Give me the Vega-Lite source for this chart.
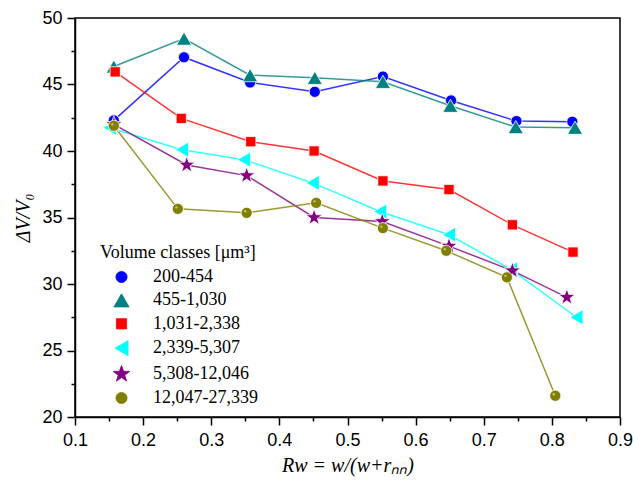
{
  "$schema": "https://vega.github.io/schema/vega-lite/v6.json",
  "autosize": "none",
  "width": 545,
  "height": 399,
  "padding": {"left": 75, "top": 18, "right": 13, "bottom": 65},
  "background": "white",
  "config": {
    "font": "Liberation Serif",
    "view": {"stroke": "black", "strokeWidth": 1.5},
    "axis": {"grid": false, "domainColor": "black", "domainWidth": 1.5, "tickColor": "black", "tickWidth": 1.5,
      "labelFont": "Liberation Sans", "labelFontSize": 18, "labelColor": "black",
      "titleFont": "Liberation Serif", "titleFontSize": 20, "titleFontStyle": "italic", "titleFontWeight": "normal", "titleColor": "black"},
    "legend": {"orient": "none", "legendX": 25, "legendY": 226,
      "titleFont": "Liberation Serif", "titleFontSize": 18, "titleFontWeight": "normal", "titleColor": "black",
      "labelFont": "Liberation Serif", "labelFontSize": 18, "labelColor": "black", "symbolOpacity": 1,
      "symbolStrokeWidth": 0.8, "rowPadding": 5.4, "labelOffset": 22, "titlePadding": 6, "symbolOffset": 12}
  },
  "data": {"values": [
    {"s": "200-454", "x": 0.157, "y": 42.3}, {"s": "200-454", "x": 0.26, "y": 47.05}, {"s": "200-454", "x": 0.357, "y": 45.15}, {"s": "200-454", "x": 0.452, "y": 44.45}, {"s": "200-454", "x": 0.552, "y": 45.6}, {"s": "200-454", "x": 0.652, "y": 43.8}, {"s": "200-454", "x": 0.748, "y": 42.25}, {"s": "200-454", "x": 0.83, "y": 42.2},
    {"s": "455-1,030", "x": 0.157, "y": 46.35}, {"s": "455-1,030", "x": 0.26, "y": 48.45}, {"s": "455-1,030", "x": 0.357, "y": 45.7}, {"s": "455-1,030", "x": 0.452, "y": 45.5}, {"s": "455-1,030", "x": 0.552, "y": 45.2}, {"s": "455-1,030", "x": 0.651, "y": 43.4}, {"s": "455-1,030", "x": 0.747, "y": 41.8}, {"s": "455-1,030", "x": 0.834, "y": 41.75},
    {"s": "1,031-2,338", "x": 0.159, "y": 45.95}, {"s": "1,031-2,338", "x": 0.256, "y": 42.45}, {"s": "1,031-2,338", "x": 0.358, "y": 40.7}, {"s": "1,031-2,338", "x": 0.451, "y": 40.0}, {"s": "1,031-2,338", "x": 0.552, "y": 37.75}, {"s": "1,031-2,338", "x": 0.649, "y": 37.1}, {"s": "1,031-2,338", "x": 0.742, "y": 34.45}, {"s": "1,031-2,338", "x": 0.831, "y": 32.4},
    {"s": "2,339-5,307", "x": 0.151, "y": 41.75}, {"s": "2,339-5,307", "x": 0.257, "y": 40.1}, {"s": "2,339-5,307", "x": 0.348, "y": 39.35}, {"s": "2,339-5,307", "x": 0.449, "y": 37.6}, {"s": "2,339-5,307", "x": 0.548, "y": 35.45}, {"s": "2,339-5,307", "x": 0.649, "y": 33.7}, {"s": "2,339-5,307", "x": 0.74, "y": 31.1}, {"s": "2,339-5,307", "x": 0.836, "y": 27.5},
    {"s": "5,308-12,046", "x": 0.157, "y": 42.0}, {"s": "5,308-12,046", "x": 0.264, "y": 38.95}, {"s": "5,308-12,046", "x": 0.352, "y": 38.15}, {"s": "5,308-12,046", "x": 0.451, "y": 35.0}, {"s": "5,308-12,046", "x": 0.551, "y": 34.7}, {"s": "5,308-12,046", "x": 0.649, "y": 32.85}, {"s": "5,308-12,046", "x": 0.742, "y": 31.0}, {"s": "5,308-12,046", "x": 0.822, "y": 29.0},
    {"s": "12,047-27,339", "x": 0.157, "y": 41.9}, {"s": "12,047-27,339", "x": 0.251, "y": 35.65}, {"s": "12,047-27,339", "x": 0.352, "y": 35.35}, {"s": "12,047-27,339", "x": 0.454, "y": 36.1}, {"s": "12,047-27,339", "x": 0.552, "y": 34.2}, {"s": "12,047-27,339", "x": 0.645, "y": 32.5}, {"s": "12,047-27,339", "x": 0.734, "y": 30.5}, {"s": "12,047-27,339", "x": 0.805, "y": 21.6}
  ]},
  "encoding": {
    "x": {"field": "x", "type": "quantitative",
      "scale": {"domain": [0.1, 0.9], "nice": false, "zero": false},
      "axis": {"title": "Rw = w/(w+rₙₙ)", "values": [0.1,0.15,0.2,0.25,0.3,0.35,0.4,0.45,0.5,0.55,0.6,0.65,0.7,0.75,0.8,0.85,0.9],
        "labelExpr": "abs(datum.value*10 - round(datum.value*10)) > 0.01 ? '' : format(datum.value, '.1f')",
        "tickSize": {"condition": {"test": "abs(datum.value*10 - round(datum.value*10)) > 0.01", "value": 4}, "value": 8},
        "labelPadding": 6, "titlePadding": 6, "labelFlush": false}},
    "y": {"field": "y", "type": "quantitative",
      "scale": {"domain": [20, 50], "nice": false, "zero": false},
      "axis": {"title": "ΔV/V₀", "values": [20,22.5,25,27.5,30,32.5,35,37.5,40,42.5,45,47.5,50],
        "labelExpr": "datum.value % 5 != 0 ? '' : format(datum.value, 'd')",
        "tickSize": {"condition": {"test": "datum.value % 5 != 0", "value": 4}, "value": 8},
        "labelPadding": 5, "titlePadding": 8, "labelFlush": false}}
  },
  "layer": [
    {"mark": {"type": "line", "strokeWidth": 1.5, "opacity": 0.8},
      "encoding": {"detail": {"field": "s"},
        "color": {"field": "s", "type": "nominal", "title": "Volume classes [μm³]",
          "legend": {"encode": {"labels": {"update": {"font": {"value": "Liberation Serif"}}}, "title": {"update": {"font": {"value": "Liberation Serif"}}}}},
          "scale": {"domain": ["200-454", "455-1,030", "1,031-2,338", "2,339-5,307", "5,308-12,046", "12,047-27,339"],
            "range": ["#0000ff", "#008080", "#ff0000", "#00ffff", "#800080", "#808000"]}}}},
    {"mark": {"type": "point", "filled": true, "opacity": 1, "stroke": "white", "strokeWidth": 0.8},
      "encoding": {
        "color": {"field": "s", "type": "nominal", "title": "Volume classes [μm³]",
          "legend": {"encode": {"labels": {"update": {"font": {"value": "Liberation Serif"}}}, "title": {"update": {"font": {"value": "Liberation Serif"}}}}}},
        "size": {"field": "s", "type": "nominal", "title": "Volume classes [μm³]",
          "legend": {"encode": {"labels": {"update": {"font": {"value": "Liberation Serif"}}}, "title": {"update": {"font": {"value": "Liberation Serif"}}}}},
          "scale": {"type": "ordinal", "domain": ["200-454", "455-1,030", "1,031-2,338", "2,339-5,307", "5,308-12,046", "12,047-27,339"],
            "range": [125, 230, 105, 230, 300, 125]}},
        "shape": {"field": "s", "type": "nominal", "title": "Volume classes [μm³]",
          "legend": {"encode": {"labels": {"update": {"font": {"value": "Liberation Serif"}}}, "title": {"update": {"font": {"value": "Liberation Serif"}}}}},
          "scale": {"domain": ["200-454", "455-1,030", "1,031-2,338", "2,339-5,307", "5,308-12,046", "12,047-27,339"],
            "range": ["circle", "triangle-up", "square", "triangle-left", "M0,-1L0.235,-0.324L0.951,-0.309L0.38,0.124L0.588,0.809L0,0.4L-0.588,0.809L-0.38,0.124L-0.951,-0.309L-0.235,-0.324Z", "circle"]}}
      }},
    {"mark": {"type": "point", "filled": true, "size": 6, "xOffset": -1.5, "yOffset": -1.5},
      "transform": [{"filter": "datum.s == '12,047-27,339'"}],
      "encoding": {"color": {"value": "#f5d0c0"}}}
  ]
}
